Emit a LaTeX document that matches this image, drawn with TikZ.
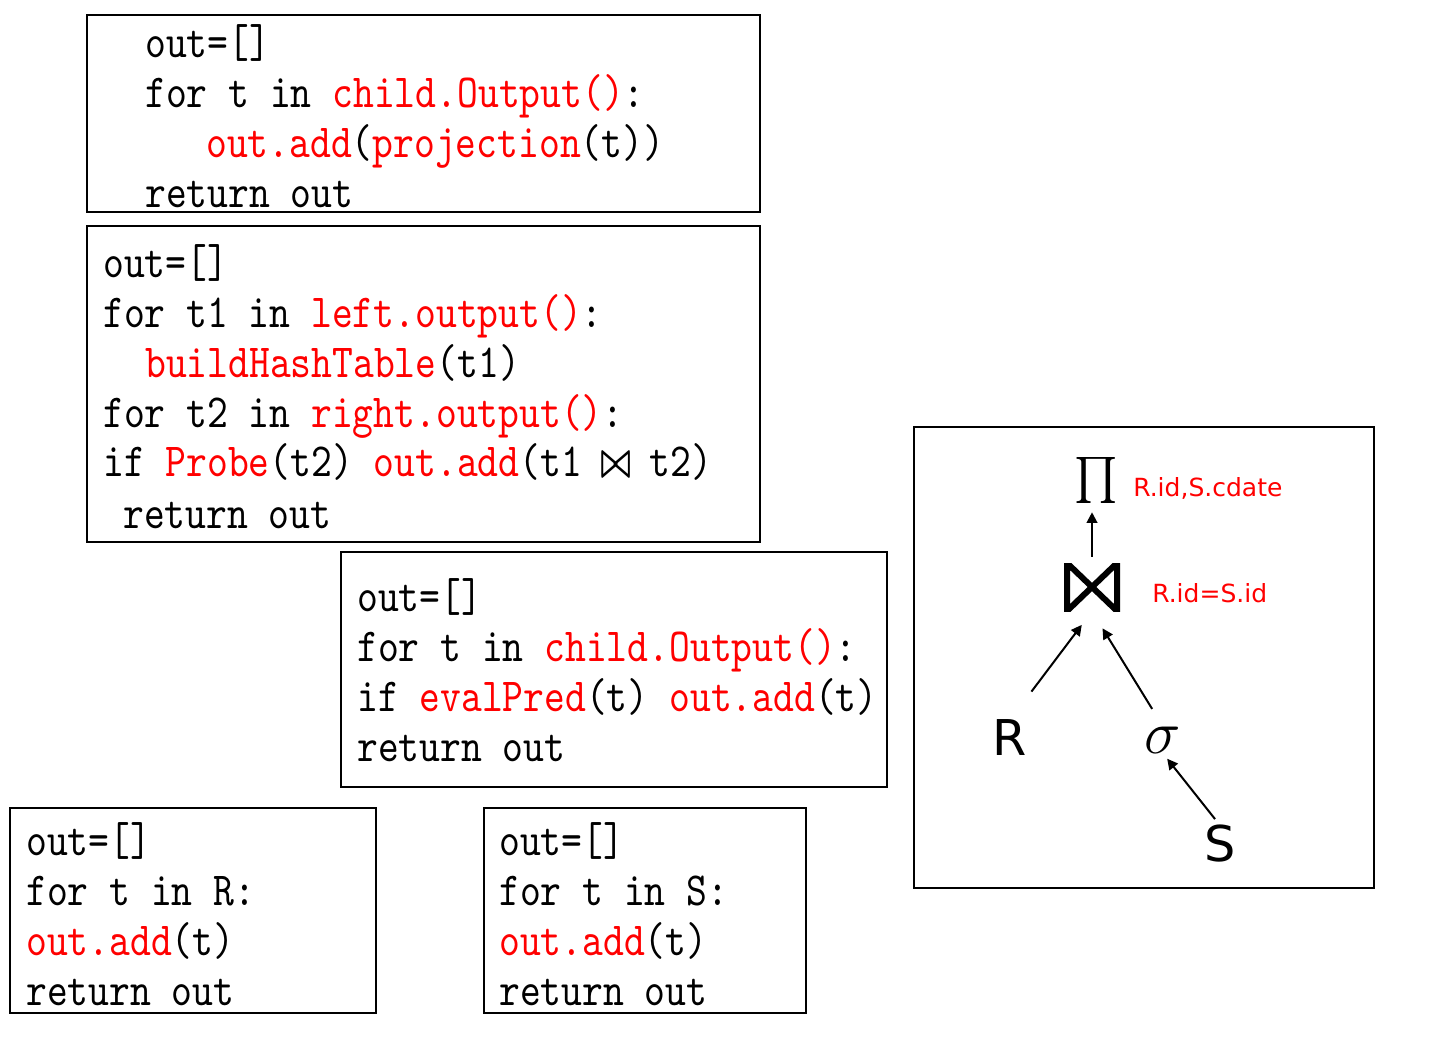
\documentclass[tikz,border=0pt]{standalone}
\usepackage{fix-cm}
\usepackage{fontspec}
\newfontfamily\codefont{lmmono10-regular.otf}[FakeStretch=0.835]
\newfontfamily\treefont{DejaVu Sans}
\usetikzlibrary{arrows.meta}

\newcommand{\redtxt}[1]{\textcolor{red}{#1}}
\newcommand{\joinsym}{\makebox[19.5pt]{\fontsize{24}{24}\selectfont\scalebox{1}[1.5]{\boldmath$\bowtie$}}}

\tikzset{
  codebox/.style={draw=black, line width=1.5pt},
  code/.style={anchor=base west, inner sep=0pt, font=\codefont\fontsize{35.6}{37.5}\selectfont},
  leaf/.style={inner sep=0pt, outer sep=0pt, font=\treefont\fontsize{37}{37}\selectfont},
  cond/.style={anchor=west, inner sep=0pt, text=red, font=\treefont\fontsize{18.75}{18.75}\selectfont},
  flow/.style={-{Triangle[length=8pt,width=8pt]}, line width=1.5pt},
}

\begin{document}
\begin{tikzpicture}[x=0.75pt,y=0.75pt,yscale=-1]
\useasboundingbox (0,0) rectangle (1452,1036);

% projection
\draw[codebox] (87,15) rectangle (760,212);
\node[code] (p1) at (145,57) {out=[]};
\node[code] (p2) at (145,107) {for t in \redtxt{child.Output()}:};
\node[code] (p3) at (206,157) {\redtxt{out.add}(\redtxt{projection}(t))};
\node[code] (p4) at (145,207) {return out};

% hash join
\draw[codebox] (87,226) rectangle (760,542);
\node[code] (j1) at (103,277) {out=[]};
\node[code] (j2) at (103,327) {for t1 in \redtxt{left.output()}:};
\node[code] (j3) at (145,377) {\redtxt{buildHashTable}(t1)};
\node[code] (j4) at (103,427) {for t2 in \redtxt{right.output()}:};
\node[code] (j5) at (103,476) {if \redtxt{Probe}(t2) \redtxt{out.add}(t1 \joinsym{} t2)};
\node[code] (j6) at (123,528) {return out};

% selection
\draw[codebox] (341,552) rectangle (887,787);
\node[code] (f1) at (357,611) {out=[]};
\node[code] (f2) at (357,661) {for t in \redtxt{child.Output()}:};
\node[code] (f3) at (357,711) {if \redtxt{evalPred}(t) \redtxt{out.add}(t)};
\node[code] (f4) at (357,761) {return out};

% scan R
\draw[codebox] (10,808) rectangle (376,1013);
\node[code] (r1) at (26,855) {out=[]};
\node[code] (r2) at (26,905) {for t in R:};
\node[code] (r3) at (26,955) {\redtxt{out.add}(t)};
\node[code] (r4) at (26,1005) {return out};

% scan S
\draw[codebox] (484,808) rectangle (806,1013);
\node[code] (s1) at (499,855) {out=[]};
\node[code] (s2) at (499,905) {for t in S:};
\node[code] (s3) at (499,955) {\redtxt{out.add}(t)};
\node[code] (s4) at (499,1005) {return out};

% plan tree
\draw[codebox] (914,427) rectangle (1374,888);
\node[inner sep=0pt] (proj) at (1096,480) {\scalebox{3.45}{$\prod$}};
\node[inner sep=0pt, minimum width=42pt, minimum height=36pt,
  path picture={\draw[line width=4.5pt]
    ([xshift=2.25pt]path picture bounding box.north west) -- ([xshift=-2.25pt]path picture bounding box.south east)
    -- ([xshift=-2.25pt]path picture bounding box.north east) -- ([xshift=2.25pt]path picture bounding box.south west) -- cycle;}]
  (join) at (1092,587) {};
\node[leaf] (rel) at (1010,738) {R};
\node[inner sep=0pt, font=\fontsize{46}{46}\selectfont] (sel) at (1163,740) {$\sigma$};
\node[leaf] (srel) at (1220,844) {S};
\node[cond] (projattr) at (1133,488) {R.id,S.cdate};
\node[cond] (joinpred) at (1152,593) {R.id=S.id};

\draw[flow, shorten <=4.5pt, shorten >=6.75pt] (join.north) -- (join.north |- proj.south);
\draw[flow, shorten <=26.7pt, shorten >=12.75pt] (rel.north) -- (join.south);
\draw[flow, shorten <=15.5pt, shorten >=15pt] (sel.north) -- (join.south);
\draw[flow, shorten <=6pt, shorten >=5pt] (srel.north) -- (sel.south);
\end{tikzpicture}
\end{document}
